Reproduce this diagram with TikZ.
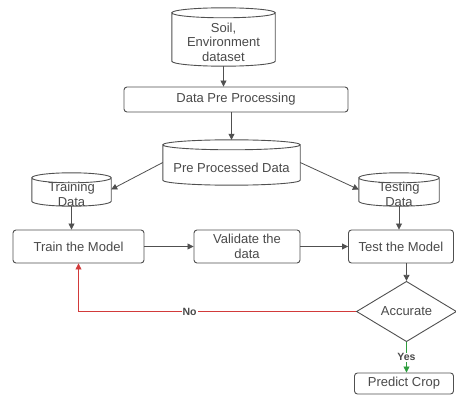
\documentclass[tikz,border=0pt]{standalone}
\usepackage{fontspec}
\setmainfont{Liberation Sans}
\usepackage{tikz}
\usetikzlibrary{shapes,arrows.meta,calc}
\definecolor{linegray}{HTML}{505050}
\definecolor{txtgray}{HTML}{4A4A4A}
\definecolor{noRed}{HTML}{D23A3A}
\definecolor{yesGreen}{HTML}{2E9E3E}
\tikzstyle{line} = [draw=linegray, line width=0.8pt, -{Triangle[length=6pt,width=6pt]}]
\tikzstyle{box} = [draw=linegray, line width=0.9pt, rounded corners=3pt, inner sep=0pt, fill=white, text=txtgray, font=\fontsize{13}{14.5}\selectfont, align=center]
\tikzstyle{db} = [inner sep=0pt]
\tikzstyle{dbline} = [draw=linegray, line width=0.9pt]
\tikzstyle{dbtext} = [text=txtgray, font=\fontsize{13}{14.5}\selectfont, align=center, yshift=-5pt]
\tikzstyle{choice} = [draw=linegray, line width=0.9pt, diamond, inner sep=0pt, fill=white, text=txtgray, font=\fontsize{13}{14.5}\selectfont]
\tikzstyle{answer} = [fill=white, inner sep=1pt, text=txtgray, font=\fontsize{10.5}{12}\selectfont\bfseries]

\begin{document}
\begin{tikzpicture}[x=1pt, y=-1pt]
		\fill [white] (0,0) rectangle (456,396);
		\useasboundingbox (0,0) rectangle (456,396);
		% data stores
		\node (soil) at (223.5,37) [db, minimum width=103pt, minimum height=58pt,
			label={[dbtext]center:Soil,\\Environment\\dataset}] {};
		\node (prep) at (236,99.5) [box, minimum width=224pt, minimum height=25pt] {Data Pre Processing};
		\node (ppd) at (231.5,162.5) [db, minimum width=137pt, minimum height=45pt,
			label={[dbtext]center:Pre Processed Data}] {};
		\node (trd) at (71.5,189.5) [db, minimum width=79pt, minimum height=33pt,
			label={[dbtext]center:Training\\Data}] {};
		\node (ted) at (399,189.5) [db, minimum width=80pt, minimum height=33pt,
			label={[dbtext]center:Testing\\Data}] {};
		\foreach \db in {soil,ppd,trd,ted}
			\draw [dbline] let \p1=(\db.west), \p2=(\db.east), \n1={0.5*(\x2-\x1)} in
				([yshift=-5pt]\db.north west) -- ([yshift=5pt]\db.south west)
				arc [start angle=180, end angle=360, x radius=\n1, y radius=5pt]
				-- ([yshift=-5pt]\db.north east)
				([yshift=-5pt]\db.north) ellipse [x radius=\n1, y radius=5pt];
		% model steps
		\node (train) at (78.5,246.5) [box, minimum width=131pt, minimum height=33pt] {Train the Model};
		\node (valid) at (247,246.5) [box, minimum width=106pt, minimum height=33pt] {Validate the\\data};
		\node (test) at (401,246.5) [box, minimum width=105pt, minimum height=33pt] {Test the Model};
		\node (acc) at (406.5,311.5) [choice, minimum width=100pt, minimum height=49pt] {Accurate};
		\node (crop) at (404,383.5) [box, minimum width=99pt, minimum height=21pt] {Predict Crop};
		% connectors
		\path [line] (soil.south) -- (soil.south |- prep.north);
		\path [line] (ppd.north |- prep.south) -- (ppd.north);
		\path [line] (ppd.west) -- (trd.east);
		\path [line] (ppd.east) -- (ted.west);
		\path [line] (trd.south) -- (trd.south |- train.north);
		\path [line] (ted.south) -- (ted.south |- test.north);
		\path [line] (train) -- (valid);
		\path [line] (valid) -- (test);
		\path [line] (acc.north |- test.south) -- (acc.north);
		\path [line, draw=yesGreen, -{Triangle[length=6pt,width=6pt,fill=yesGreen]}] (acc.south) -- (acc.south |- crop.north)
			node [answer, midway] {Yes};
		\path [line, draw=noRed, -{Triangle[length=6pt,width=6pt,fill=noRed]}] (acc.west) -| (train.south)
			node [answer, pos=0.3] {No};
\end{tikzpicture}
\end{document}
